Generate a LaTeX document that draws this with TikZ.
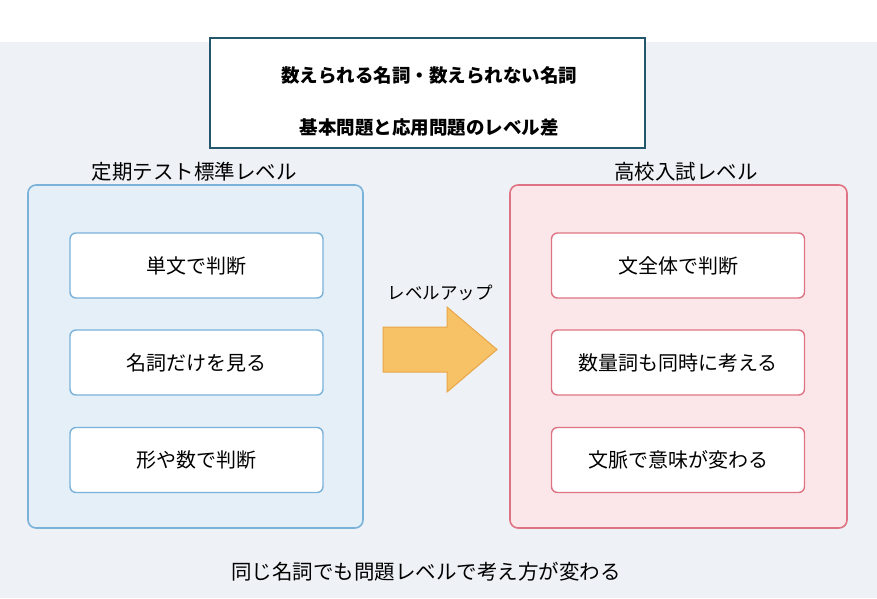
\documentclass[tikz,border=0pt]{standalone}
\usepackage{fontspec}
\newfontfamily\cjk{Noto Sans CJK JP}
\definecolor{bgcol}{HTML}{EEF2F6}
\definecolor{titlecol}{HTML}{24566C}
\definecolor{bluefill}{HTML}{E4EFF8}
\definecolor{blueline}{HTML}{7AB2DA}
\definecolor{pinkfill}{HTML}{FBE7EA}
\definecolor{redline}{HTML}{DE7483}
\definecolor{arrowfill}{HTML}{F7C266}
\definecolor{arrowline}{HTML}{E9A548}
\tikzset{
  panel/.style={rounded corners=8pt, line width=1.6pt},
  item/.style={draw, rounded corners=6pt, line width=1.4pt, fill=white,
    minimum width=253pt, minimum height=65pt, font=\cjk\fontsize{20}{24}\selectfont},
  label/.style={font=\cjk\fontsize{20.5}{24}\selectfont}
}
\begin{document}
\begin{tikzpicture}[x=1pt,y=-1pt]
\useasboundingbox (0,0) rectangle (877,598);
\fill[white] (0,0) rectangle (877,598);
\fill[bgcol] (0,42) rectangle (877,598);

% title
\node[draw=titlecol, line width=2.2pt, fill=white, minimum width=435pt, minimum height=110pt] (title) at (427.5,93) {};
\node[font=\cjk\bfseries\fontsize{18.5}{22}\selectfont] (t1) at (429,75) {数えられる名詞・数えられない名詞};
\node[font=\cjk\bfseries\fontsize{18.5}{22}\selectfont] (t2) at (429,128) {基本問題と応用問題のレベル差};

% left panel
\draw[panel, draw=blueline, fill=bluefill] (28,185) rectangle (363,528);
\node[label] (lefthead) at (194,172) {定期テスト標準レベル};
\node[item, draw=blueline] (l1) at (196.5,265.5) {単文で判断};
\node[item, draw=blueline] (l2) at (196.5,362.5) {名詞だけを見る};
\node[item, draw=blueline] (l3) at (196.5,460) {形や数で判断};

% right panel
\draw[panel, draw=redline, fill=pinkfill] (510,185) rectangle (847,528);
\node[label] (righthead) at (686,172) {高校入試レベル};
\node[item, draw=redline] (r1) at (678,265.5) {文全体で判断};
\node[item, draw=redline] (r2) at (678,362.5) {数量詞も同時に考える};
\node[item, draw=redline] (r3) at (678,460) {文脈で意味が変わる};

% arrow
\draw[draw=arrowline, fill=arrowfill, line width=1pt, line join=miter]
  (383,327) -- (447,327) -- (447,307) -- (497,349.5) -- (447,392)
  -- (447,372) -- (383,372) -- cycle;
\node[font=\cjk\fontsize{17.5}{21}\selectfont] (uplabel) at (440,293) {レベルアップ};

\node[label] (foot) at (426,572) {同じ名詞でも問題レベルで考え方が変わる};
\end{tikzpicture}
\end{document}
